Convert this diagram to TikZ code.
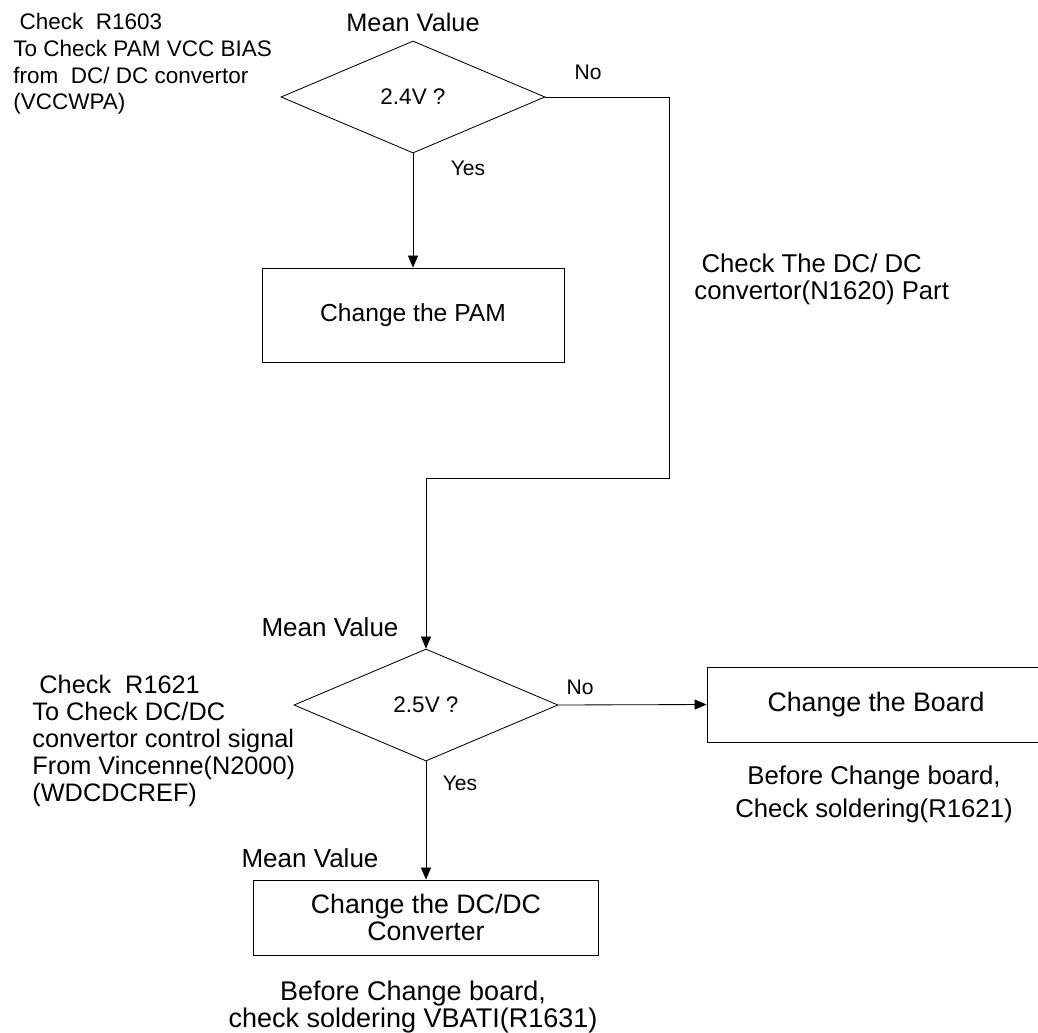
\documentclass[tikz,border=0pt]{standalone}
\usepackage{fontspec}
\setmainfont{Liberation Sans}
\usetikzlibrary{shapes.geometric,arrows.meta}
\tikzset{
  decision/.style={draw, diamond, inner sep=0pt, minimum width=6.6cm, minimum height=2.8cm,
    font=\fontsize{16}{19}\selectfont},
  action/.style={draw, rectangle, inner sep=0pt, font=\fontsize{19}{19}\selectfont},
  note/.style={inner sep=0pt, align=left, anchor=north west},
  mean/.style={font=\fontsize{18.5}{20}\selectfont},
}

\begin{document}
\begin{tikzpicture}[x=0.025cm, y=-0.025cm, line width=0.6pt,
    >={Triangle[length=0.3cm,width=0.25cm]},
    every node/.style={font=\fontsize{15}{18}\selectfont}]
          \useasboundingbox (0,0) rectangle (1038,1032);
          \node[decision] (test1) at (413,97) {2.4V ?};
          \node[action, minimum width=7.55cm, minimum height=2.35cm, font=\fontsize{17.5}{19}\selectfont] (pam) at (413,315) {Change the PAM};
          \node[decision] (test2) at (426,705) {2.5V ?};
          \node[action, minimum width=8.45cm, minimum height=1.875cm] (board) at (876,704.5) {Change the Board};
          \node[action, minimum width=8.625cm, minimum height=1.875cm, align=center] (conv) at (426,917.5) {Change the DC/DC\\Converter};
          \node[mean, font=\fontsize{18}{20}\selectfont] (mean1) at (413,22) {Mean Value};
          \node[mean] (mean2) at (330,627) {Mean Value};
          \node[mean] (mean3) at (310,858) {Mean Value};
          \node (no1) at (588,72) {No};
          \node (yes1) at (468,168) {Yes};
          \node (no2) at (580,687) {No};
          \node (yes2) at (460,783) {Yes};
          \node[note, font=\fontsize{16}{19}\selectfont] (note1) at (13,13) {\ Check\ \ R1603\\To Check PAM VCC BIAS\\from\ \ DC/ DC convertor\\(VCCWPA)};
          \node[note, font=\fontsize{18.3}{19.5}\selectfont] (note2) at (694,253) {\ Check The DC/ DC\\convertor(N1620) Part};
          \node[note, font=\fontsize{18}{19.2}\selectfont] (note3) at (32,675) {\ Check\ \ R1621\\To Check DC/DC\\convertor control signal\\From Vincenne(N2000)\\(WDCDCREF)};
          \node[align=center, font=\fontsize{18.3}{23.4}\selectfont] (note4) at (874,794) {Before Change board,\\Check soldering(R1621)};
          \node[align=center, font=\fontsize{19.2}{18.5}\selectfont] (note5) at (413,1007) {Before Change board,\\check soldering VBATI(R1631)};
          \coordinate (bend) at (669,478);
          \draw[->] (test1.south) to (pam.north);
          \draw[->] (test1.east) -| (bend) -| (test2.north);
          \draw[->] (test2.east) to (board.west);
          \draw[->] (test2.south) to (conv.north);
          \end{tikzpicture}
\end{document}
